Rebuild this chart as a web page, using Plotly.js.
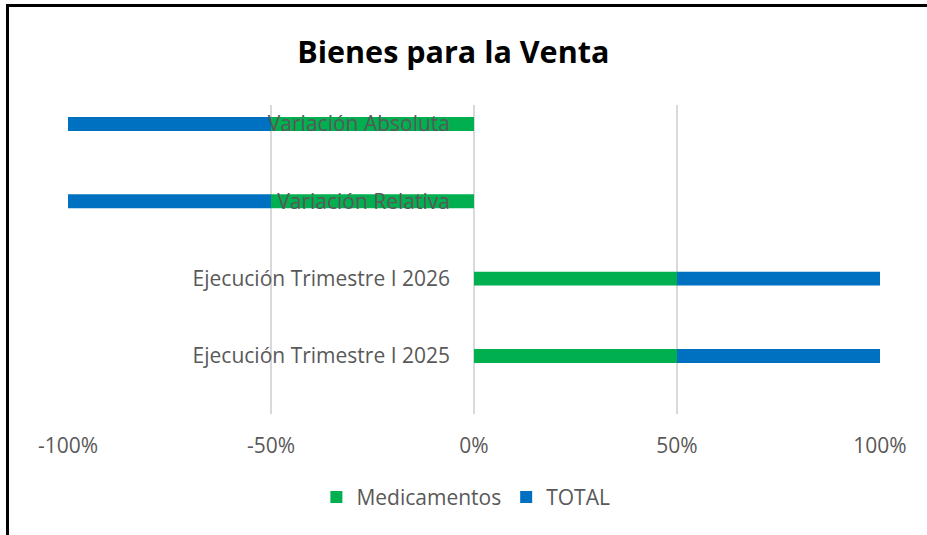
<!DOCTYPE html>
<html>
<head>
<meta charset="utf-8">
<script src="https://cdn.plot.ly/plotly-3.0.1.min.js"></script>
<style>
html,body{margin:0;padding:0;background:#fff;overflow:hidden;}
#chart{width:927px;height:535px;}
#frame{position:absolute;left:6px;top:4px;width:2000px;height:2000px;border:3px solid #000;pointer-events:none;}
</style>
</head>
<body>
<div id="chart"></div>
<div id="frame"></div>
<script>
var categories = ["Ejecución Trimestre I 2025", "Ejecución Trimestre I 2026", "Variación Relativa", "Variación Absoluta"];
var medicamentos = [0.5, 0.5, -0.5, -0.5];
var total = [0.5, 0.5, -0.5, -0.5];
var xTickVals = [-1, -0.5, 0, 0.5, 1];
var xTickText = ["-100%", "-50%", "0%", "50%", "100%"];

var font = "'Open Sans', 'Noto Sans', sans-serif";
var traces = [
  {type: "bar", orientation: "h", name: "Medicamentos", y: categories, x: medicamentos,
   marker: {color: "#00B050"}, width: 0.18, hoverinfo: "x+y"},
  {type: "bar", orientation: "h", name: "TOTAL", y: categories, x: total,
   marker: {color: "#0070C0"}, width: 0.18, hoverinfo: "x+y"}
];
var layout = {
  width: 927, height: 535,
  margin: {l: 68, r: 47, t: 105, b: 121},
  paper_bgcolor: "#fff", plot_bgcolor: "#fff",
  barmode: "relative",
  title: {text: "<b>Bienes para la Venta</b>", x: 0.489, xanchor: "center", y: 0.903, yanchor: "middle",
          font: {family: font, size: 30.5, color: "#000"}},
  xaxis: {range: [-1, 1], tickvals: xTickVals, ticktext: xTickText, showgrid: true,
          gridcolor: "#d9d9d9", gridwidth: 2, zeroline: false, showline: false, ticks: "",
          ticklabelstandoff: 17,
          tickfont: {family: font, size: 21, color: "#595959"}, fixedrange: true},
  yaxis: {type: "category", categoryorder: "array", categoryarray: categories,
          range: [-0.75, 3.245], anchor: "free", position: 0.5, showgrid: false,
          zeroline: false, showline: false, ticks: "", ticklabelstandoff: 24,
          tickfont: {family: font, size: 21, color: "#595959"}, fixedrange: true},
  showlegend: true,
  legend: {orientation: "h", x: 0.49, xanchor: "center", y: -0.27, yanchor: "middle",
           font: {family: font, size: 21, color: "#595959"}, itemwidth: 30, tracegroupgap: 0}
};
Plotly.newPlot("chart", traces, layout, {displayModeBar: false, staticPlot: true});
</script>
</body>
</html>
